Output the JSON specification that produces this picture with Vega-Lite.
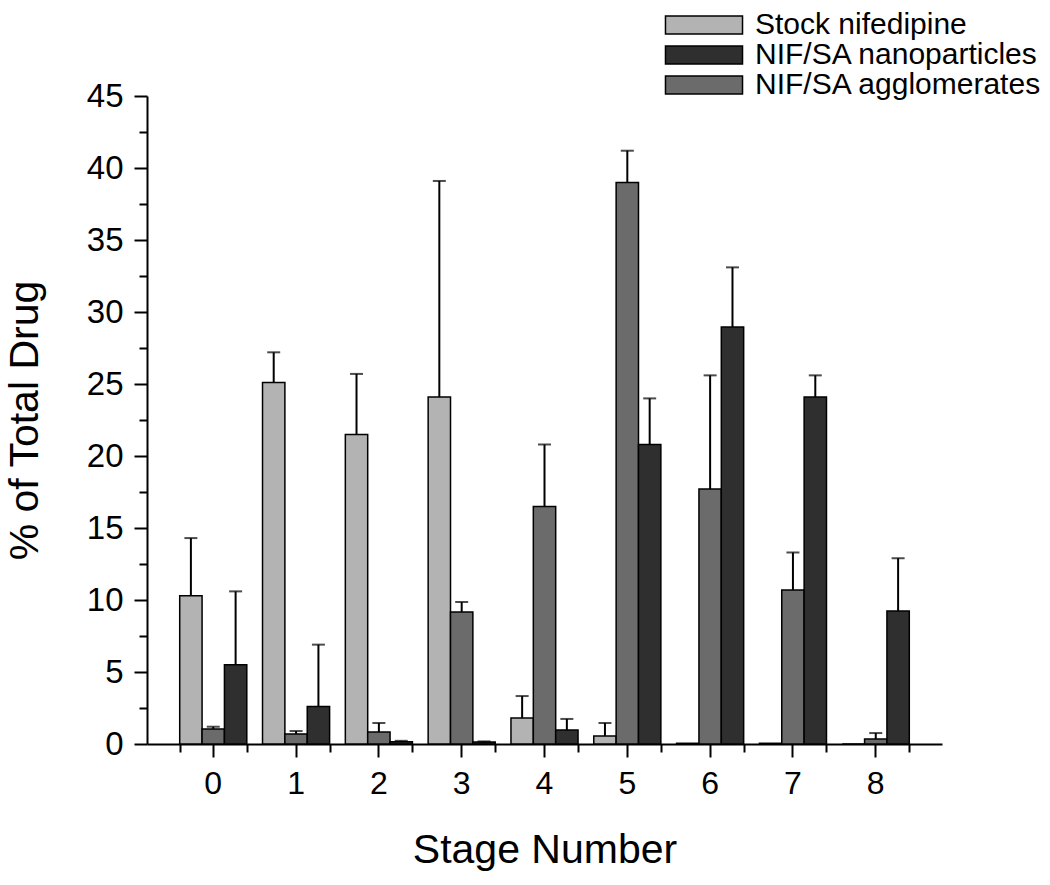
{
  "$schema": "https://vega.github.io/schema/vega-lite/v6.json",
  "width": 795,
  "height": 648,
  "autosize": "none",
  "padding": {"left": 147, "top": 96, "right": 108, "bottom": 141},
  "background": "white",
  "config": {
    "view": {"stroke": null},
    "font": "Liberation Sans",
    "axis": {"labelFont": "Liberation Sans", "titleFont": "Liberation Sans", "labelColor": "black", "titleColor": "black", "domainColor": "black", "tickColor": "black", "grid": false, "titleFontWeight": "normal"},
    "legend": {"labelFont": "Liberation Sans"}
  },
  "data": {
    "values": [
      {"stage": "0", "series": "Stock nifedipine", "value": 10.3, "err": 14.3},
      {"stage": "0", "series": "NIF/SA agglomerates", "value": 1.05, "err": 1.2},
      {"stage": "0", "series": "NIF/SA nanoparticles", "value": 5.5, "err": 10.6},
      {"stage": "1", "series": "Stock nifedipine", "value": 25.1, "err": 27.2},
      {"stage": "1", "series": "NIF/SA agglomerates", "value": 0.7, "err": 0.9},
      {"stage": "1", "series": "NIF/SA nanoparticles", "value": 2.6, "err": 6.9},
      {"stage": "2", "series": "Stock nifedipine", "value": 21.5, "err": 25.7},
      {"stage": "2", "series": "NIF/SA agglomerates", "value": 0.83, "err": 1.46},
      {"stage": "2", "series": "NIF/SA nanoparticles", "value": 0.15, "err": 0.22},
      {"stage": "3", "series": "Stock nifedipine", "value": 24.1, "err": 39.1},
      {"stage": "3", "series": "NIF/SA agglomerates", "value": 9.17, "err": 9.86},
      {"stage": "3", "series": "NIF/SA nanoparticles", "value": 0.14, "err": 0.18},
      {"stage": "4", "series": "Stock nifedipine", "value": 1.8, "err": 3.33},
      {"stage": "4", "series": "NIF/SA agglomerates", "value": 16.5, "err": 20.8},
      {"stage": "4", "series": "NIF/SA nanoparticles", "value": 0.97, "err": 1.74},
      {"stage": "5", "series": "Stock nifedipine", "value": 0.56, "err": 1.46},
      {"stage": "5", "series": "NIF/SA agglomerates", "value": 39.0, "err": 41.2},
      {"stage": "5", "series": "NIF/SA nanoparticles", "value": 20.8, "err": 24.0},
      {"stage": "6", "series": "Stock nifedipine", "value": 0.05, "err": null},
      {"stage": "6", "series": "NIF/SA agglomerates", "value": 17.7, "err": 25.6},
      {"stage": "6", "series": "NIF/SA nanoparticles", "value": 28.96, "err": 33.1},
      {"stage": "7", "series": "Stock nifedipine", "value": 0.05, "err": null},
      {"stage": "7", "series": "NIF/SA agglomerates", "value": 10.7, "err": 13.3},
      {"stage": "7", "series": "NIF/SA nanoparticles", "value": 24.1, "err": 25.6},
      {"stage": "8", "series": "Stock nifedipine", "value": 0, "err": null},
      {"stage": "8", "series": "NIF/SA agglomerates", "value": 0.35, "err": 0.76},
      {"stage": "8", "series": "NIF/SA nanoparticles", "value": 9.24, "err": 12.9}
    ]
  },
  "resolve": {"scale": {"x": "independent", "y": "independent"}, "axis": {"x": "independent", "y": "independent"}},
  "layer": [
    {
      "mark": {"type": "bar", "stroke": "black", "strokeWidth": 1.5},
      "encoding": {
        "x": {"field": "stage", "type": "ordinal",
          "scale": {"domain": ["0","1","2","3","4","5","6","7","8"], "paddingInner": 0.19, "paddingOuter": 0.395},
          "axis": {"orient": "bottom", "title": "Stage Number", "labelAngle": 0, "labelFontSize": 32, "labelPadding": 11, "tickSize": 13, "tickWidth": 2, "domainWidth": 2, "titleFontSize": 41, "titlePadding": 31}},
        "xOffset": {"field": "series", "type": "nominal",
          "scale": {"domain": ["Stock nifedipine", "NIF/SA agglomerates", "NIF/SA nanoparticles"], "paddingInner": 0, "paddingOuter": 0}},
        "y": {"field": "value", "type": "quantitative",
          "scale": {"domain": [0, 45], "nice": false},
          "axis": {"orient": "left", "title": "% of Total Drug", "values": [0,5,10,15,20,25,30,35,40,45], "labelFontSize": 33, "labelPadding": 11, "tickSize": 13, "tickWidth": 2, "domainWidth": 2, "titleFontSize": 41, "titlePadding": 40}},
        "color": {"field": "series", "type": "nominal",
          "scale": {"domain": ["Stock nifedipine", "NIF/SA nanoparticles", "NIF/SA agglomerates"], "range": ["#b3b3b3", "#2f2f2f", "#6b6b6b"]},
          "legend": {"title": null, "orient": "none", "legendX": 542, "legendY": -86, "labelFontSize": 30, "labelLimit": 0, "labelColor": "black", "symbolType": "M-4.28,-1H4.28V1H-4.28Z", "symbolSize": 324, "symbolStrokeColor": "black", "symbolStrokeWidth": 1.5, "symbolOpacity": 1, "labelOffset": 36, "rowPadding": 0}}
      }
    },
    {
      "transform": [{"filter": "isValid(datum.err)"}],
      "mark": {"type": "rule", "color": "black", "strokeWidth": 2},
      "encoding": {
        "x": {"field": "stage", "type": "ordinal",
          "scale": {"domain": ["0","1","2","3","4","5","6","7","8"], "paddingInner": 0.19, "paddingOuter": 0.395},
          "axis": {"orient": "bottom", "title": null, "labels": false, "domain": false, "tickBand": "extent", "tickSize": 8, "tickWidth": 2}},
        "xOffset": {"field": "series", "type": "nominal",
          "scale": {"domain": ["Stock nifedipine", "NIF/SA agglomerates", "NIF/SA nanoparticles"], "paddingInner": 0, "paddingOuter": 0}},
        "y": {"field": "value", "type": "quantitative",
          "scale": {"domain": [0, 45], "nice": false},
          "axis": {"orient": "left", "title": null, "labels": false, "domain": false, "values": [2.5,7.5,12.5,17.5,22.5,27.5,32.5,37.5,42.5], "tickSize": 8, "tickWidth": 2}},
        "y2": {"field": "err"}
      }
    },
    {
      "transform": [{"filter": "isValid(datum.err)"}],
      "mark": {"type": "tick", "orient": "horizontal", "color": "black", "size": 13, "thickness": 2},
      "encoding": {
        "x": {"field": "stage", "type": "ordinal",
          "scale": {"domain": ["0","1","2","3","4","5","6","7","8"], "paddingInner": 0.19, "paddingOuter": 0.395},
          "axis": null},
        "xOffset": {"field": "series", "type": "nominal",
          "scale": {"domain": ["Stock nifedipine", "NIF/SA agglomerates", "NIF/SA nanoparticles"], "paddingInner": 0, "paddingOuter": 0}},
        "y": {"field": "err", "type": "quantitative",
          "scale": {"domain": [0, 45], "nice": false},
          "axis": null}
      }
    }
  ]
}
